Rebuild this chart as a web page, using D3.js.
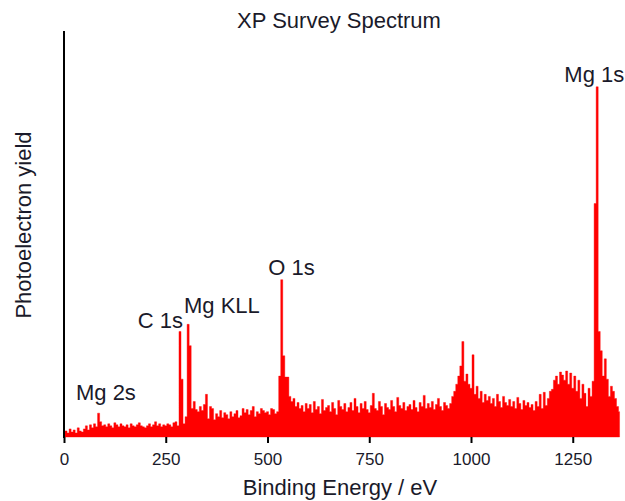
<!DOCTYPE html>
<html>
<head>
<meta charset="utf-8">
<script src="https://cdn.jsdelivr.net/npm/d3@7"></script>
<style>
  body { margin: 0; background: #fff; }
  text { font-family: "Liberation Sans", Arial, sans-serif; fill: #1a1a2a; }
</style>
</head>
<body>
<svg></svg>
<script>
const energyStep = 5;
const counts = [
    30, 60, 40, 80, 50, 70, 40, 90, 60, 50,           // 0
    80, 110, 70, 120, 90, 130, 100, 235, 150, 110,    // 50
    120, 100, 130, 110, 90, 140, 120, 100, 130, 110,  // 100
    100, 120, 90, 130, 110, 100, 120, 140, 110, 100,  // 150
    90, 110, 130, 100, 120, 150, 110, 130, 100, 120,  // 200
    110, 130, 120, 100, 140, 150, 110, 1040, 570, 130, // 250
    200, 1110, 900, 280, 350, 270, 250, 300, 260, 320, // 300
    420, 180, 300, 280, 170, 230, 200, 260, 190, 240, // 350
    220, 180, 250, 200, 230, 260, 190, 210, 280, 240, // 400
    270, 220, 260, 300, 200, 250, 230, 280, 260, 240, // 450
    250, 220, 280, 270, 230, 250, 600, 1550, 800, 590, // 500
    590, 400, 350, 380, 300, 340, 280, 310, 250, 330, // 550
    280, 320, 240, 350, 270, 300, 230, 370, 260, 290, // 600
    310, 250, 340, 280, 220, 360, 300, 270, 330, 250, // 650
    290, 340, 260, 380, 300, 240, 330, 280, 350, 270, // 700
    240, 310, 430, 280, 260, 350, 300, 220, 330, 290, // 750
    270, 360, 300, 250, 390, 310, 280, 340, 260, 300, // 800
    320, 270, 360, 290, 250, 340, 300, 410, 280, 330, // 850
    290, 350, 270, 320, 380, 300, 260, 340, 310, 280, // 900
    330, 400, 450, 520, 600, 700, 940, 550, 620, 520, // 950
    480, 810, 420, 500, 380, 450, 340, 420, 360, 400, // 1000
    330, 380, 300, 420, 350, 290, 400, 340, 310, 370, // 1050
    300, 350, 280, 390, 330, 270, 360, 310, 340, 290, // 1100
    320, 260, 350, 300, 420, 280, 440, 310, 380, 450, // 1150
    470, 560, 600, 520, 640, 610, 560, 650, 520, 630, // 1200
    480, 600, 450, 560, 380, 520, 430, 300, 480, 400, // 1250
    550, 2300, 3450, 1040, 850, 600, 770, 570, 400, 500, // 1300
    450, 380, 300, 250                                 // 1350
];
const xTicks = [0, 250, 500, 750, 1000, 1250];
const peakNames = ["Mg 2s", "C 1s", "Mg KLL", "O 1s", "Mg 1s"];
const peakEnergies = [103, 237, 388, 559, 1303];
const peakCounts = [360, 1070, 1220, 1600, 3500];

const width = 625, height = 501;
const plotLeft = 64, plotTop = 31, plotBottom = 437;

const data = counts.map((c, i) => ({ e: i * energyStep, c: c }));

let svg = d3.select("svg")
    .attr("width", width)
    .attr("height", height);

let x = d3.scaleLinear().domain([0, 1000]).range([plotLeft, 471]);
let y = d3.scaleLinear().domain([0, 4000]).range([plotBottom, plotTop]);

// spectrum
let area = d3.area()
    .x(d => x(d.e))
    .y0(plotBottom)
    .y1(d => y(d.c))
    .curve(d3.curveStep);

svg.append("path")
    .datum(data)
    .attr("d", area)
    .attr("fill", "#ff0000")
    .attr("stroke", "#ff0000")
    .attr("stroke-width", 0.4);

// x axis
let xAxis = d3.axisBottom(x).tickValues(xTicks).tickFormat(d3.format("d")).tickSize(6).tickPadding(10);
let gx = svg.append("g")
    .attr("transform", `translate(0, ${plotBottom})`)
    .call(xAxis);
gx.select(".domain").remove();
gx.selectAll(".tick line").attr("stroke", "#000").attr("stroke-width", 2);
gx.selectAll(".tick text")
    .attr("font-size", 17)
    .attr("font-family", "Liberation Sans, Arial, sans-serif");

// y axis line
svg.append("line")
    .attr("x1", plotLeft).attr("x2", plotLeft)
    .attr("y1", plotTop).attr("y2", plotBottom + 1)
    .attr("stroke", "#000")
    .attr("stroke-width", 2);

// peak labels
svg.selectAll(".peak")
    .data(peakNames)
    .enter()
    .append("text")
    .attr("class", "peak")
    .attr("x", (d, i) => x(peakEnergies[i]))
    .attr("y", (d, i) => y(peakCounts[i]))
    .attr("text-anchor", "middle")
    .attr("font-size", 22)
    .text(d => d);

// titles
svg.append("text")
    .attr("x", 339)
    .attr("y", 28)
    .attr("text-anchor", "middle")
    .attr("font-size", 22)
    .text("XP Survey Spectrum");

svg.append("text")
    .attr("x", 340)
    .attr("y", 495)
    .attr("text-anchor", "middle")
    .attr("font-size", 22)
    .text("Binding Energy / eV");

svg.append("text")
    .attr("transform", "rotate(-90)")
    .attr("x", -225)
    .attr("y", 31)
    .attr("text-anchor", "middle")
    .attr("font-size", 22)
    .text("Photoelectron yield");
</script>
</body>
</html>
